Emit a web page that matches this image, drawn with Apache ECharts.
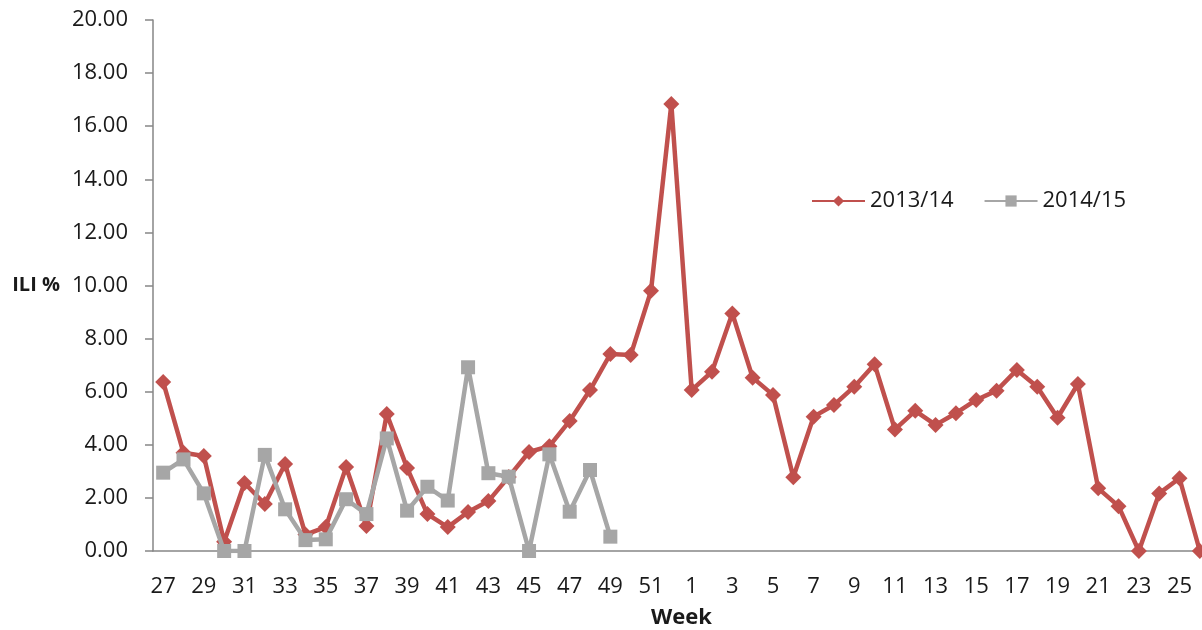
<!DOCTYPE html>
<html>
<head>
<meta charset="utf-8">
<script src="https://cdn.jsdelivr.net/npm/echarts@6/dist/echarts.min.js"></script>
<style>
  html, body { margin: 0; padding: 0; background: #fff; }
  #chart { width: 1202px; height: 630px; }
</style>
</head>
<body>
<div id="chart"></div>
<script>
// weeks 27..52 then 1..26
const weeks = [
  "27", "28", "29", "30", "31", "32", "33", "34", "35", "36", "37", "38", "39",
  "40", "41", "42", "43", "44", "45", "46", "47", "48", "49", "50", "51", "52",
  "1", "2", "3", "4", "5", "6", "7", "8", "9", "10", "11", "12", "13",
  "14", "15", "16", "17", "18", "19", "20", "21", "22", "23", "24", "25", "26",
];

const season1314 = [
  6.37, 3.7, 3.58, 0.35, 2.56, 1.77, 3.28, 0.62, 0.9, 3.16, 0.94, 5.16, 3.13,
  1.39, 0.9, 1.47, 1.88, 2.79, 3.73, 3.95, 4.9, 6.06, 7.42, 7.38, 9.8, 16.84,
  6.06, 6.75, 8.95, 6.53, 5.88, 2.78, 5.06, 5.5, 6.19, 7.03, 4.58, 5.28, 4.75,
  5.19, 5.69, 6.04, 6.82, 6.19, 5.02, 6.29, 2.36, 1.69, 0.0, 2.17, 2.74, 0.0,
];

const season1415 = [
  2.95, 3.45, 2.17, 0.0, 0.0, 3.62, 1.57, 0.41, 0.44, 1.95, 1.39, 4.24, 1.52,
  2.42, 1.9, 6.92, 2.93, 2.8, 0.0, 3.64, 1.48, 3.05, 0.54,
];

const seriesNames = ["2013/14", "2014/15"];

const FONT = "'Open Sans', 'Liberation Sans', sans-serif";
const AXIS_GREY = "#868686";
const TEXT = "#1a1a1a";

const chart = echarts.init(document.getElementById("chart"));

const option = {
  animation: false,
  textStyle: { fontFamily: FONT },

  grid: {
    left: 153,
    right: -8,
    top: 20,
    bottom: 79,
    containLabel: false,
    outerBoundsMode: "none",
  },

  legend: {
    left: 806,
    top: 185,
    itemWidth: 53,
    itemHeight: 14,
    itemGap: 30,
    data: seriesNames,
    textStyle: { color: TEXT, fontSize: 22, fontFamily: FONT },
  },

  xAxis: {
    type: "category",
    data: weeks,
    boundaryGap: true,
    name: "Week",
    nameLocation: "middle",
    nameGap: 56,
    nameTextStyle: { color: TEXT, fontSize: 22, fontWeight: "bold", fontFamily: FONT },
    axisLine: { lineStyle: { color: AXIS_GREY, width: 1.5 } },
    axisTick: {
      interval: 0,
      alignWithLabel: false,
      length: 8,
      lineStyle: { color: AXIS_GREY, width: 1.5 },
    },
    axisLabel: {
      interval: 1,
      color: TEXT,
      fontSize: 22,
      margin: 25,
      fontFamily: FONT,
    },
    splitLine: { show: false },
  },

  yAxis: {
    type: "value",
    min: 0,
    max: 20,
    interval: 2,
    name: "ILI %",
    nameLocation: "middle",
    nameRotate: 0,
    nameGap: 93,
    nameTextStyle: { color: TEXT, fontSize: 20, fontWeight: "bold", fontFamily: FONT },
    axisLine: { show: true, lineStyle: { color: AXIS_GREY, width: 1.5 } },
    axisTick: { show: true, length: 8, lineStyle: { color: AXIS_GREY, width: 1.5 } },
    axisLabel: {
      color: TEXT,
      fontSize: 22,
      margin: 25,
      fontFamily: FONT,
      formatter: (v) => Number(v).toFixed(2),
    },
    splitLine: { show: false },
  },

  series: [
    {
      name: seriesNames[0],
      type: "line",
      data: season1314,
      symbol: "diamond",
      symbolSize: 16,
      showSymbol: true,
      showAllSymbol: true,
      itemStyle: { color: "#C0504D" },
      lineStyle: { color: "#C0504D", width: 4.5 },
      z: 2,
    },
    {
      name: seriesNames[1],
      type: "line",
      data: season1415,
      symbol: "rect",
      symbolSize: 14,
      showSymbol: true,
      showAllSymbol: true,
      itemStyle: { color: "#A6A6A6" },
      lineStyle: { color: "#A6A6A6", width: 4.5 },
      z: 3,
    },
  ],
};

chart.setOption(option);
</script>
</body>
</html>
